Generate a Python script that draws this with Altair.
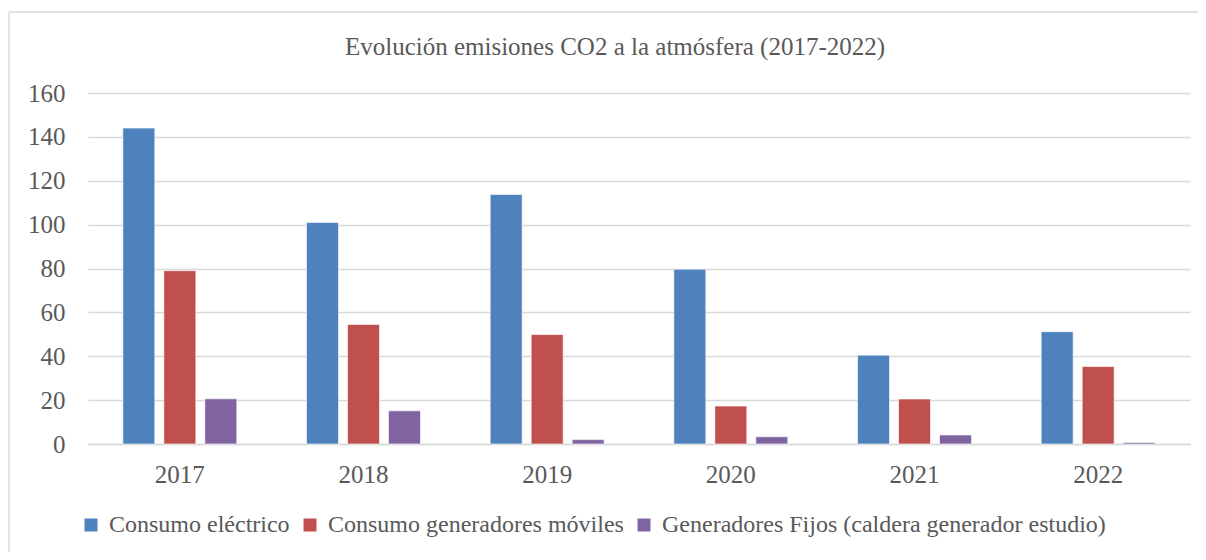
import altair as alt
import pandas as pd

years = ["2017", "2018", "2019", "2020", "2021", "2022"]
series = [
    "Consumo eléctrico",
    "Consumo generadores móviles",
    "Generadores Fijos (caldera generador estudio)",
]
consumo_electrico = [144.0, 101.0, 113.7, 79.7, 40.5, 51.2]
consumo_moviles = [79.0, 54.5, 49.9, 17.3, 20.5, 35.3]
generadores_fijos = [20.6, 15.1, 2.0, 3.3, 4.1, 0.7]
colors = ["#4F81BD", "#C0504D", "#8064A2"]
y_ticks = [0, 20, 40, 60, 80, 100, 120, 140, 160]

rows = []
for name, vals in zip(series, [consumo_electrico, consumo_moviles, generadores_fijos]):
    for yr, v in zip(years, vals):
        rows.append({"year": yr, "series": name, "value": v})
df = pd.DataFrame(rows)

FONT = "Liberation Serif"
GREY = "#595959"
GRID = "#d9d9d9"
FS = 25

bars = alt.Chart(df).mark_bar(stroke="#ffffff", strokeOpacity=0.6, strokeWidth=1).encode(
    x=alt.X(
        "year:N",
        sort=years,
        scale=alt.Scale(paddingInner=0, paddingOuter=0),
        axis=alt.Axis(
            title=None, labelAngle=0, ticks=False, domain=True, domainColor=GRID,
            domainWidth=1.5, labelFont=FONT, labelFontSize=FS, labelColor=GREY,
            labelPadding=18,
        ),
    ),
    xOffset=alt.XOffset(
        "series:N", sort=series, scale=alt.Scale(paddingInner=0.22, paddingOuter=0.85)
    ),
    y=alt.Y(
        "value:Q",
        scale=alt.Scale(domain=[0, 160]),
        axis=alt.Axis(
            title=None, values=y_ticks, domain=False, ticks=False, grid=True,
            gridColor=GRID, gridWidth=1.5, labelFont=FONT, labelFontSize=FS,
            labelColor=GREY, labelPadding=23,
        ),
    ),
    color=alt.Color(
        "series:N",
        sort=series,
        scale=alt.Scale(domain=series, range=colors),
        legend=alt.Legend(
            title=None, orient="none", direction="horizontal", legendX=-9, legendY=420,
            symbolType="square", symbolSize=169, symbolStrokeWidth=0,
            labelFont=FONT, labelFontSize=24, labelColor=GREY, labelOffset=6,
            labelLimit=0, columnPadding=8, padding=0,
        ),
    ),
)

frame_left = alt.Chart(alt.Data(values=[{}])).mark_rule(color=GRID, strokeWidth=1.5).encode(
    x=alt.value(-79), y=alt.value(-81), y2=alt.value(500)
)
frame_top = alt.Chart(alt.Data(values=[{}])).mark_rule(color=GRID, strokeWidth=1.5).encode(
    x=alt.value(-79), x2=alt.value(1130), y=alt.value(-81)
)

chart = alt.layer(frame_left, frame_top, bars).properties(
    width=1102,
    height=351,
    title=alt.Title(
        "Evolución emisiones CO2 a la atmósfera (2017-2022)",
        font=FONT, fontSize=FS, fontWeight="normal", color=GREY,
        anchor="middle", frame="group", dx=-24, offset=-49,
    ),
    autosize=alt.AutoSizeParams(type="none"),
    padding={"left": 80, "top": 85, "right": 8, "bottom": 108},
).configure_view(stroke=None)

chart.save("out.html", embed_options={"renderer": "svg", "actions": False})
